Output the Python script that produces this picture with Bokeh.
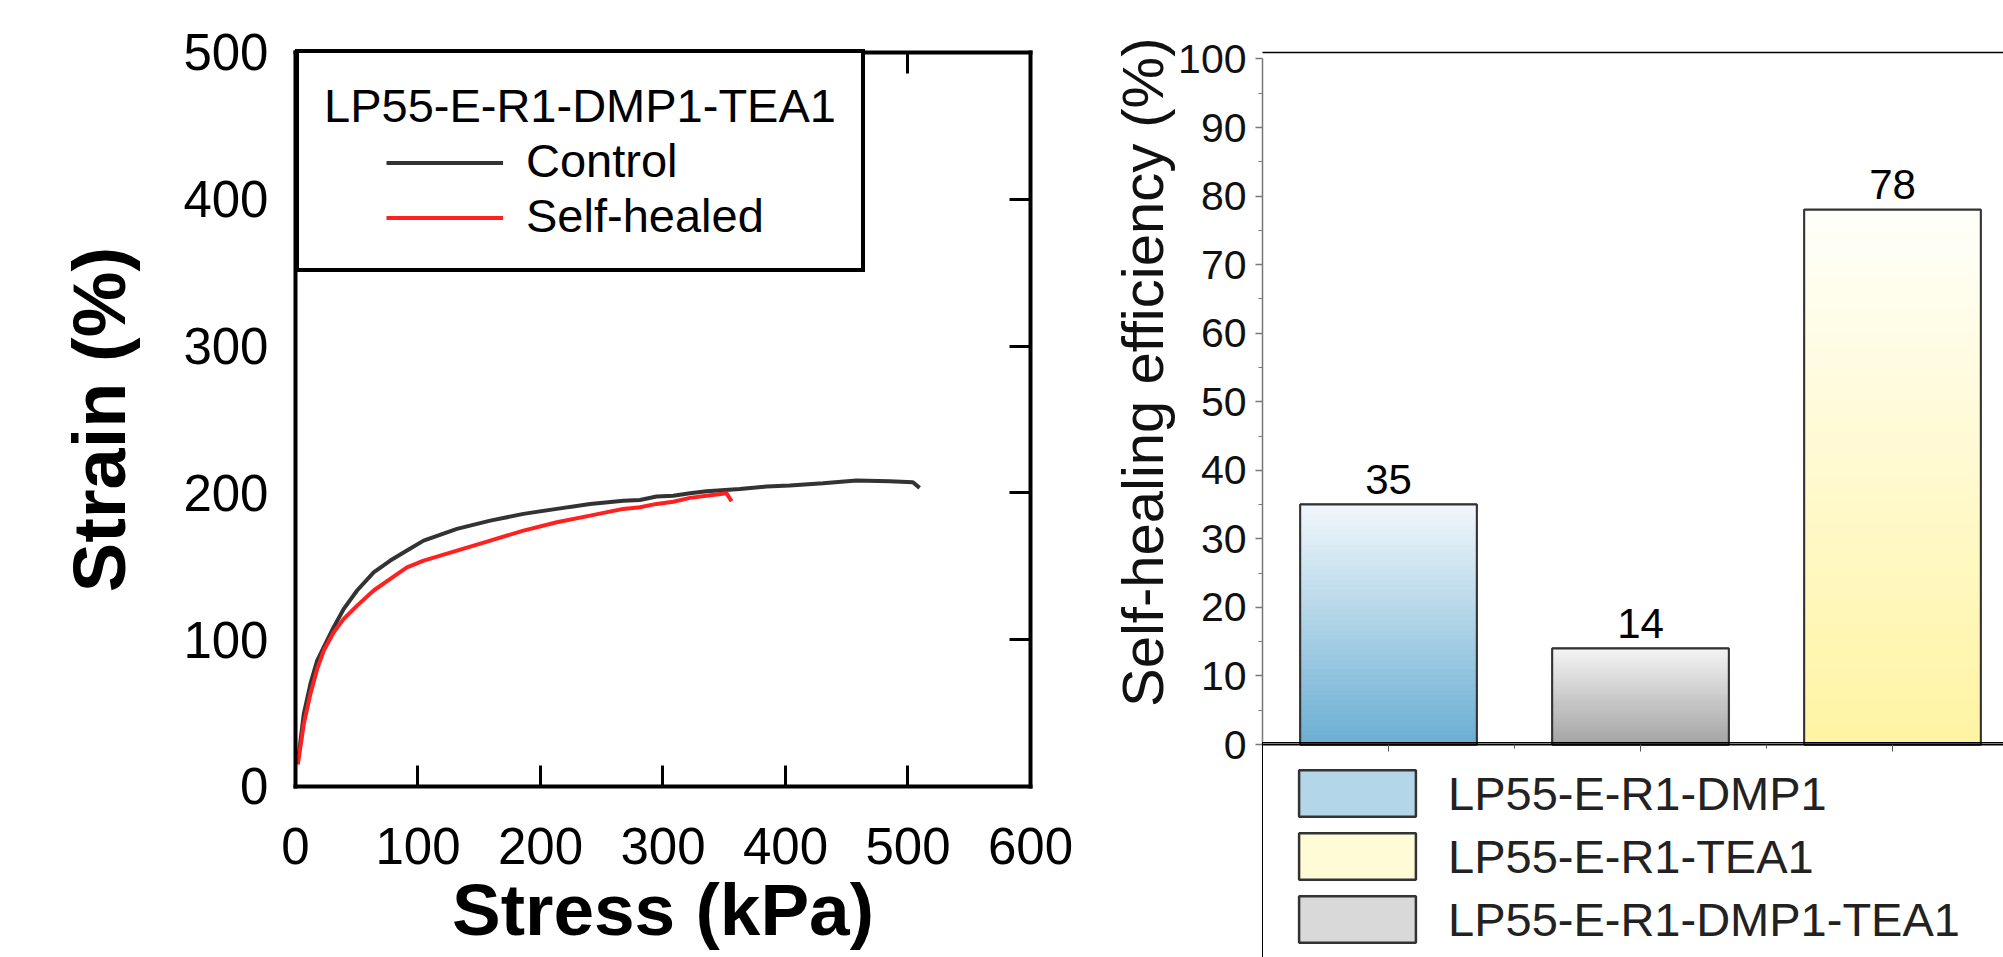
import math
from bokeh.plotting import figure
from bokeh.layouts import row
from bokeh.models import (Range1d, LinearAxis, FixedTicker, Legend, LegendItem,
                          Label, LabelSet, ColumnDataSource)
from bokeh.core.properties import value
from bokeh.embed import file_html
from bokeh.resources import INLINE

# ---------------- data: left chart (Stress vs Strain) ----------------
control_stress = [1.9, 6.8, 12.2, 17.7, 23.1, 31.2, 39.4, 50.3, 63.8, 77.4, 91.0, 104.6,
                  131.8, 159.0, 186.1, 213.3, 240.5, 267.6, 281.2, 294.8, 308.4, 322.0,
                  335.6, 362.8, 384.5, 403.5, 430.7, 457.9, 485.0, 504.0, 509.5]
control_strain = [16.6, 49.5, 69.9, 85.8, 94.9, 108.5, 121.0, 133.5, 145.9, 153.9, 160.7, 167.5,
                  175.5, 181.1, 185.7, 189.1, 192.5, 194.7, 195.2, 197.5, 198.1, 199.7,
                  201.1, 202.7, 204.3, 205.0, 206.5, 208.4, 207.9, 207.2, 203.4]
healed_stress = [1.9, 6.8, 12.2, 17.7, 23.1, 31.2, 39.4, 50.3, 63.8, 77.4, 91.0, 104.6,
                 131.8, 159.0, 186.1, 213.3, 240.5, 267.6, 281.2, 294.8, 308.4, 322.0,
                 335.6, 351.9, 356.0]
healed_strain = [15.0, 42.7, 63.1, 80.1, 92.6, 105.1, 114.2, 123.2, 133.5, 141.4, 149.3, 153.9,
                 160.7, 167.5, 174.3, 180.0, 184.5, 189.1, 190.2, 192.5, 194.0, 196.6,
                 198.1, 199.7, 194.3]
stress_ticks = [0, 100, 200, 300, 400, 500, 600]
strain_ticks = [0, 100, 200, 300, 400, 500]
series_names = ["Control", "Self-healed"]
legend_title_left = "LP55-E-R1-DMP1-TEA1"
x_title_left = "Stress (kPa)"
y_title_left = "Strain (%)"

# ---------------- data: right chart (efficiency bars) ----------------
categories = ["LP55-E-R1-DMP1", "LP55-E-R1-DMP1-TEA1", "LP55-E-R1-TEA1"]
efficiency = [35, 14, 78]
bar_labels = ["35", "14", "78"]
legend_order = ["LP55-E-R1-DMP1", "LP55-E-R1-TEA1", "LP55-E-R1-DMP1-TEA1"]
eff_ticks = list(range(0, 101, 10))
eff_minor = list(range(5, 100, 10))
y_title_right = "Self-healing efficiency (%)"

FONT = "Liberation Sans"

# gradient styles (bottom, top) and flat legend swatches
grad = {
    "LP55-E-R1-DMP1": ("#6aaed3", "#f2f7fb"),
    "LP55-E-R1-DMP1-TEA1": ("#a3a3a3", "#f4f4f4"),
    "LP55-E-R1-TEA1": ("#fff4a3", "#fffffa"),
}
swatch = {
    "LP55-E-R1-DMP1": "#b4d6e9",
    "LP55-E-R1-DMP1-TEA1": "#d9d9d9",
    "LP55-E-R1-TEA1": "#fffbd6",
}


def mix(c1, c2, t):
    a = [int(c1[i:i + 2], 16) for i in (1, 3, 5)]
    b = [int(c2[i:i + 2], 16) for i in (1, 3, 5)]
    return "#%02x%02x%02x" % tuple(int(round(a[k] + (b[k] - a[k]) * t)) for k in range(3))


def blank_overrides(ticks):
    return {t: "" for t in ticks}


# ====================== left figure (frame = whole canvas) ======================
# data box: stress 0..600 -> x 295..1030 ; strain 0..500 -> y 786..52
p1 = figure(width=1100, height=957, x_range=Range1d(-240.8, 657.14),
            y_range=Range1d(-116.49, 535.42),
            output_backend="svg", toolbar_location=None,
            x_axis_location=None, y_axis_location=None,
            min_border_left=0, min_border_right=0, min_border_top=0, min_border_bottom=0)
p1.xgrid.visible = False
p1.ygrid.visible = False
p1.outline_line_color = None
p1.background_fill_color = "white"
p1.border_fill_color = "white"


def frame_axis(ax):
    ax.axis_line_color = "black"
    ax.axis_line_width = 4
    ax.axis_line_cap = "square"
    ax.major_tick_in = 21
    ax.major_tick_out = 0
    ax.major_tick_line_width = 3
    ax.major_tick_line_color = "black"
    ax.minor_tick_line_color = None


xb = LinearAxis(ticker=FixedTicker(ticks=stress_ticks), fixed_location=0, bounds=(0, 600))
frame_axis(xb)
xb.major_label_text_font = FONT
xb.major_label_text_font_size = "51px"
xb.major_label_text_color = "black"
xb.major_label_standoff = 42
p1.add_layout(xb, "below")

xt = LinearAxis(ticker=FixedTicker(ticks=stress_ticks), fixed_location=500, bounds=(0, 600),
                major_label_overrides=blank_overrides(stress_ticks))
frame_axis(xt)
xt.major_label_standoff = 0
p1.add_layout(xt, "above")

yl = LinearAxis(ticker=FixedTicker(ticks=strain_ticks), fixed_location=0, bounds=(0, 500))
frame_axis(yl)
yl.major_tick_in = 0
yl.major_tick_line_color = None
yl.major_label_text_font = FONT
yl.major_label_text_font_size = "51px"
yl.major_label_text_color = "black"
yl.major_label_standoff = 27
p1.add_layout(yl, "left")

yr = LinearAxis(ticker=FixedTicker(ticks=strain_ticks), fixed_location=600, bounds=(0, 500),
                major_label_overrides=blank_overrides(strain_ticks))
frame_axis(yr)
yr.major_label_standoff = 0
p1.add_layout(yr, "right")

r_control = p1.line(control_stress, control_strain, line_color="#333333", line_width=4)
r_healed = p1.line(healed_stress, healed_strain, line_color="#ff2020", line_width=4)

legA = Legend(items=[LegendItem(label=series_names[0], renderers=[r_control]),
                     LegendItem(label=series_names[1], renderers=[r_healed])],
              location=(295, 685), margin=0, padding=25,
              title=legend_title_left, title_text_font=FONT, title_text_font_size="47px",
              title_text_font_style="normal", title_text_color="black", title_standoff=0,
              spacing=0, label_height=53, glyph_height=53, glyph_width=0, label_standoff=202,
              label_text_font=FONT, label_text_font_size="47px", label_text_color="black",
              border_line_color="black", border_line_width=4, border_line_alpha=1.0,
              background_fill_color="white", background_fill_alpha=1.0)
p1.add_layout(legA)

# glyph-only legend, indented under the legend title
legB = Legend(items=[LegendItem(label=" ", renderers=[r_control]),
                     LegendItem(label=" ", renderers=[r_healed])],
              location=(386, 713), margin=0, padding=0, spacing=2,
              label_height=53, glyph_height=53, glyph_width=117, label_standoff=0,
              label_text_font=FONT, label_text_font_size="47px",
              border_line_color=None, background_fill_alpha=0.0)
p1.add_layout(legB)

p1.add_layout(Label(x=300, y=-84.0, text=x_title_left, text_align="center",
                    text_baseline="alphabetic", text_font=FONT, text_font_size="73px",
                    text_font_style="bold", text_color="black"))
p1.add_layout(Label(x=-160.0, y=250, text=y_title_left, angle=math.pi / 2, text_align="center",
                    text_baseline="alphabetic", text_font=FONT, text_font_size="74px",
                    text_font_style="bold", text_color="black"))

# ====================== right figure (frame = whole canvas) ======================
# categories at x 1388/1640/1892 (252 px apart), efficiency 0 at y=744 (6.855 px per unit)
p2 = figure(width=903, height=957, x_range=Range1d(-1.1429, 2.4405),
            y_range=Range1d(-31.07, 108.53),
            output_backend="svg", toolbar_location=None,
            x_axis_location=None, y_axis_location=None,
            min_border_left=0, min_border_right=0, min_border_top=0, min_border_bottom=0)
p2.xgrid.visible = False
p2.ygrid.visible = False
p2.outline_line_color = None
p2.background_fill_color = "white"
p2.border_fill_color = "white"

ya = LinearAxis(ticker=FixedTicker(ticks=eff_ticks, minor_ticks=eff_minor),
                fixed_location=-0.5, bounds=(0, 100))
ya.major_tick_out = 7
ya.major_tick_in = 0
ya.minor_tick_out = 4
ya.minor_tick_in = 0
ya.axis_line_color = "#777777"
ya.axis_line_width = 1.5
ya.major_tick_line_color = "#777777"
ya.major_tick_line_width = 1.5
ya.minor_tick_line_color = "#777777"
ya.major_label_text_font = FONT
ya.major_label_text_font_size = "41px"
ya.major_label_text_color = "#111111"
ya.major_label_standoff = 9
p2.add_layout(ya, "left")

cat_idx = list(range(len(categories)))
xa = LinearAxis(ticker=FixedTicker(ticks=cat_idx, minor_ticks=[-0.5, 0.5, 1.5, 2.5]),
                fixed_location=0, bounds=(-0.5, 2.4405),
                major_label_overrides=blank_overrides(cat_idx))
xa.major_tick_out = 7
xa.major_tick_in = 0
xa.minor_tick_out = 4
xa.minor_tick_in = 0
xa.axis_line_color = "black"
xa.axis_line_width = 2
xa.major_tick_line_color = "#555555"
xa.minor_tick_line_color = "#555555"
xa.major_label_standoff = 0
p2.add_layout(xa, "below")

top_ax = LinearAxis(ticker=FixedTicker(ticks=[]), fixed_location=100.95, bounds=(-0.5, 2.4405))
top_ax.axis_line_color = "black"
top_ax.axis_line_width = 1.5
top_ax.major_tick_line_color = None
top_ax.minor_tick_line_color = None
p2.add_layout(top_ax, "above")

BAR_W = 0.70
N = 48

# flat-coloured bars (also the legend swatches), covered by the gradient
swatch_r = {}
for i, (cat, v) in enumerate(zip(categories, efficiency)):
    swatch_r[cat] = p2.vbar(x=[i], top=[v], bottom=0, width=BAR_W, fill_color=swatch[cat],
                            line_color="#333333", line_width=2.5)

for i, (cat, v) in enumerate(zip(categories, efficiency)):
    c_bot, c_top = grad[cat]
    bottoms = [v * k / N for k in range(N)]
    tops = [v * (k + 1) / N for k in range(N)]
    cols = [mix(c_bot, c_top, (k + 0.5) / N) for k in range(N)]
    p2.quad(left=i - BAR_W / 2, right=i + BAR_W / 2, bottom=bottoms, top=tops,
            fill_color=cols, line_color=cols, line_width=1)

p2.vbar(x=cat_idx, top=efficiency, bottom=0, width=BAR_W, fill_color=None,
        line_color="#333333", line_width=1.8)

lbl_src = ColumnDataSource(dict(x=cat_idx, y=efficiency, t=bar_labels))
p2.add_layout(LabelSet(x="x", y="y", text="t", source=lbl_src, y_offset=11,
                       text_align="center", text_baseline="alphabetic",
                       text_font=value(FONT), text_font_size=value("42px"), text_color="black"))

legR = Legend(items=[LegendItem(label=cat, renderers=[swatch_r[cat]]) for cat in legend_order],
              location=(162, -13), margin=0, padding=21, spacing=5,
              glyph_width=146, glyph_height=58, label_height=58, label_standoff=18,
              label_width=600, label_text_font=FONT, label_text_font_size="47px",
              label_text_color="#222222", border_line_color="black", border_line_width=1.5,
              border_line_alpha=1.0, background_fill_alpha=0.0)
p2.add_layout(legR)

p2.add_layout(Label(x=-0.9762, y=54.3, text=y_title_right, angle=math.pi / 2,
                    text_align="center", text_baseline="alphabetic", text_font=FONT,
                    text_font_size="58px", text_color="#111111"))

layout = row(p1, p2)
open("out.html", "w").write(file_html(layout, INLINE))
